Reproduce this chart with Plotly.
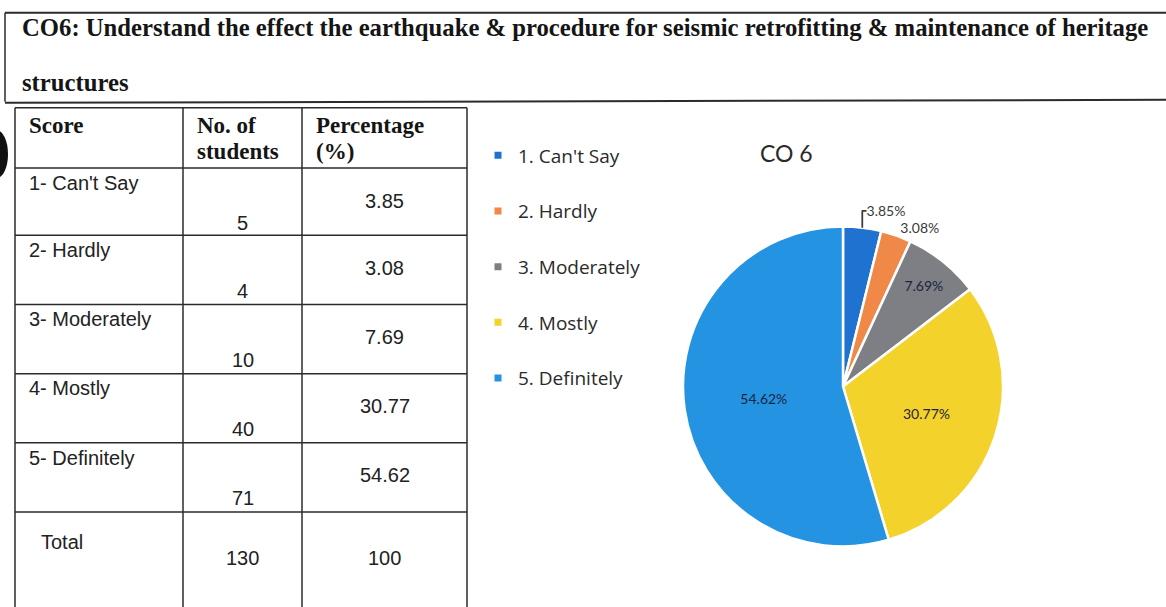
import plotly.graph_objects as go

W, H = 1166, 607

# ---- data ----
score_labels = ["1- Can't Say", "2- Hardly", "3- Moderately", "4- Mostly", "5- Definitely", "Total"]
students = [5, 4, 10, 40, 71, 130]
percentages = ["3.85", "3.08", "7.69", "30.77", "54.62", "100"]
legend_labels = ["1. Can't Say", "2. Hardly", "3. Moderately", "4. Mostly", "5. Definitely"]
pie_values = [5, 4, 10, 40, 71]
pie_colors = ["#1f72d0", "#f08848", "#7d7f84", "#f4d22c", "#2393e2"]
header_lines = [["Score"], ["No. of", "students"], ["Percentage", "(%)"]]
title_line1 = "CO6: Understand the effect the earthquake & procedure for seismic retrofitting & maintenance of heritage"
title_line2 = "structures"
chart_title = "CO 6"


def px(x):
    return x / W


def py(y):
    return 1 - y / H


fig = go.Figure()

# pie
textpos = ["outside", "outside", "inside", "inside", "inside"]
fig.add_trace(go.Pie(
    labels=legend_labels,
    values=pie_values,
    sort=False,
    direction="clockwise",
    rotation=0,
    marker=dict(colors=pie_colors, line=dict(color="white", width=2.5)),
    texttemplate="%{percent:.2%}",
    textposition=textpos,
    insidetextorientation="horizontal",
    textfont=dict(family="Lato", size=14, color="#1c2540"),
    outsidetextfont=dict(family="Lato", size=14, color="#3a3a3a"),
    domain=dict(x=[px(683), px(1003)], y=[py(581), py(201)]),
    showlegend=False,
    hoverinfo="label+percent",
))

# legend via dummy traces
for i, (lab, col) in enumerate(zip(legend_labels, pie_colors)):
    fig.add_trace(go.Scatter(
        x=[None], y=[None], mode="markers", name=lab,
        marker=dict(symbol="square", size=7, color=col),
        legendgroup="g%d" % i, showlegend=True,
    ))

shapes = []
line_col = "#2b2b2b"
# document frame lines
shapes.append(dict(type="line", xref="paper", yref="paper", x0=px(5), x1=px(1166), y0=py(13), y1=py(13), line=dict(color=line_col, width=2)))
shapes.append(dict(type="line", xref="paper", yref="paper", x0=px(5), x1=px(5), y0=py(13), y1=py(103), line=dict(color=line_col, width=1.5)))
shapes.append(dict(type="line", xref="paper", yref="paper", x0=px(5), x1=px(1166), y0=py(104), y1=py(101), line=dict(color=line_col, width=2)))
# hole punch
shapes.append(dict(type="circle", xref="paper", yref="paper", x0=px(-14), x1=px(8), y0=py(132), y1=py(180), fillcolor="#111111", line=dict(width=0)))

# table grid
col_x = [15, 183, 302, 467]
row_y = [109, 170, 238, 308, 378, 448, 518, 620]
for x in col_x:
    shapes.append(dict(type="line", xref="paper", yref="paper", x0=px(x), x1=px(x), y0=py(row_y[0]), y1=py(row_y[-1]),
                       line=dict(color=line_col, width=1.5)))
for y in row_y[:-1]:
    shapes.append(dict(type="line", xref="paper", yref="paper", x0=px(col_x[0]), x1=px(col_x[-1]), y0=py(y), y1=py(y),
                       line=dict(color=line_col, width=1.5)))

annotations = []
serif_b = dict(family="Liberation Serif", size=23, color="#151515")
sans = dict(family="Liberation Sans", size=20, color="#222222")

# header cells
for c, lines in enumerate(header_lines):
    for k, t in enumerate(lines):
        annotations.append(dict(text="<b>%s</b>" % t, xref="paper", yref="paper",
                                x=px(col_x[c] + 12), y=py(row_y[0] + 18 + 26 * k),
                                xanchor="left", yanchor="middle", showarrow=False, font=serif_b))

# body cells
for r, (lab, n, p) in enumerate(zip(score_labels, students, percentages)):
    top = row_y[r + 1]
    last = lab == "Total"
    annotations.append(dict(text=lab, xref="paper", yref="paper",
                            x=px(col_x[0] + (24 if last else 12)), y=py(top + (30 if last else 15)),
                            xanchor="left", yanchor="middle", showarrow=False, font=sans))
    annotations.append(dict(text=str(n), xref="paper", yref="paper",
                            x=px((col_x[1] + col_x[2]) / 2), y=py(top + (47 if last else 56)),
                            xanchor="center", yanchor="middle", showarrow=False, font=sans))
    annotations.append(dict(text=p, xref="paper", yref="paper",
                            x=px((col_x[2] + col_x[3]) / 2), y=py(top + (47 if last else 33)),
                            xanchor="center", yanchor="middle", showarrow=False, font=sans))

annotations += [
    dict(text="<b>" + title_line1 + "</b>", xref="paper", yref="paper", x=px(20), y=py(28), xanchor="left", yanchor="middle",
         showarrow=False, font=dict(family="Liberation Serif", size=24.7, color="#151515")),
    dict(text="<b>" + title_line2 + "</b>", xref="paper", yref="paper", x=px(20), y=py(83), xanchor="left", yanchor="middle",
         showarrow=False, font=dict(family="Liberation Serif", size=24.7, color="#151515")),
    dict(text=chart_title, xref="paper", yref="paper", x=px(786), y=py(155), xanchor="center", yanchor="middle",
         showarrow=False, font=dict(family="Lato", size=23, color="#2a2a2a")),
]

fig.update_layout(
    width=W, height=H,
    margin=dict(l=0, r=0, t=0, b=0),
    paper_bgcolor="white",
    plot_bgcolor="white",
    xaxis=dict(visible=False),
    yaxis=dict(visible=False),
    shapes=shapes,
    annotations=annotations,
    legend=dict(x=px(478), y=py(138), xanchor="left", yanchor="top",
                font=dict(family="Open Sans", size=19, color="#2a2a2a"),
                tracegroupgap=28, bgcolor="rgba(0,0,0,0)", itemwidth=30),
)

fig.write_html("out.html", config={"displayModeBar": False},
               post_script="document.body.style.margin='0';document.body.style.overflow='hidden';")
